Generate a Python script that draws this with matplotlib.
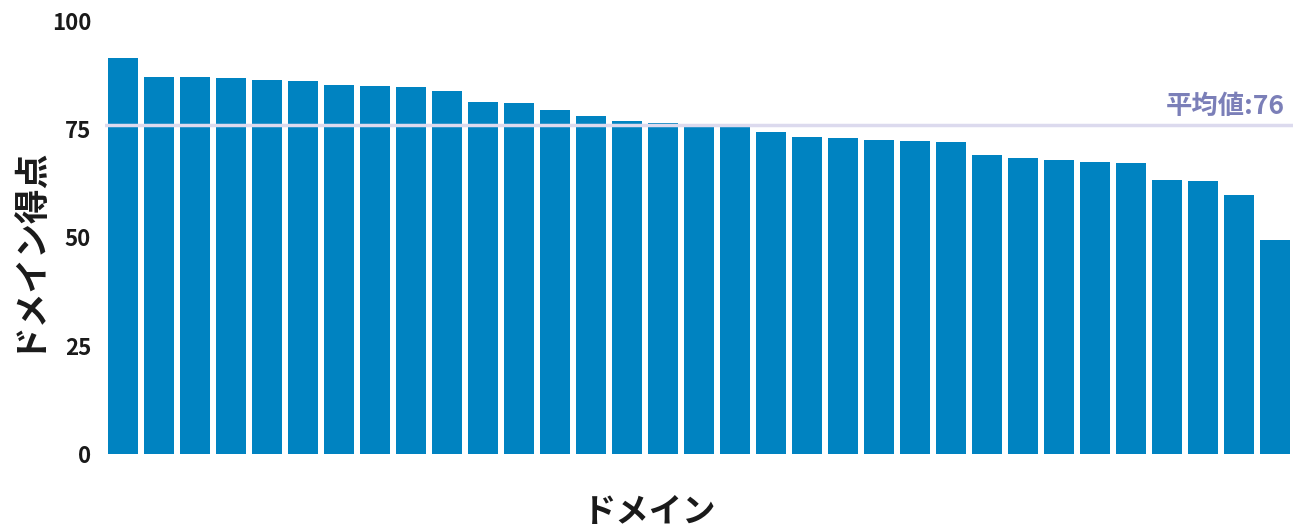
import matplotlib
matplotlib.use("Agg")
import matplotlib.pyplot as plt
import numpy as np

plt.rcParams['font.family'] = ['Noto Sans CJK JP', 'DejaVu Sans']

domains = [f"D{i+1}" for i in range(33)]
scores = [91.5, 87.1, 87.1, 86.8, 86.4, 86.1, 85.2, 85.0, 84.8, 83.8,
          81.3, 81.1, 79.4, 78.1, 76.9, 76.4, 75.9, 75.8, 74.4, 73.2,
          73.0, 72.5, 72.3, 72.1, 69.1, 68.4, 67.9, 67.4, 67.2, 63.3,
          63.0, 59.8, 49.4]
yticks = [0, 25, 50, 75, 100]

W, H = 1297, 531
fig = plt.figure(figsize=(W/100, H/100), dpi=100)
ax = fig.add_axes([105/W, (H-454)/H, (1293-105)/W, 433/H])

x = np.arange(len(domains))
ax.bar(x, scores, width=0.833, color='#0083c1', zorder=2)
mean = round(float(np.mean(scores)))
ax.axhline(mean, color='#dcdaee', lw=2.5, zorder=3)
ax.text(len(domains) - 0.72, mean + 1.2, f"平均値:{mean}", ha='right', va='bottom',
        color='#7b7fb8', fontsize=19, fontweight='bold')

ax.set_xlim(-0.5, len(domains) - 0.5)
ax.set_ylim(0, 100)
ax.set_xticks([])
ax.set_yticks(yticks)
ax.set_yticklabels([str(t) for t in yticks], fontsize=16, fontweight='bold', color='#1a1a1a')
ax.tick_params(axis='y', length=0, pad=10)
for s in ax.spines.values():
    s.set_visible(False)

fig.text(650/W, 1 - 512/H, "ドメイン", ha='center', va='center', fontsize=24, fontweight='bold', color='#1a1a1a')
fig.text(25/W, 1 - 248/H, "ドメイン得点", ha='center', va='center', rotation=90, fontsize=25, fontweight='bold', color='#1a1a1a')

fig.savefig("out.png", dpi=100)
